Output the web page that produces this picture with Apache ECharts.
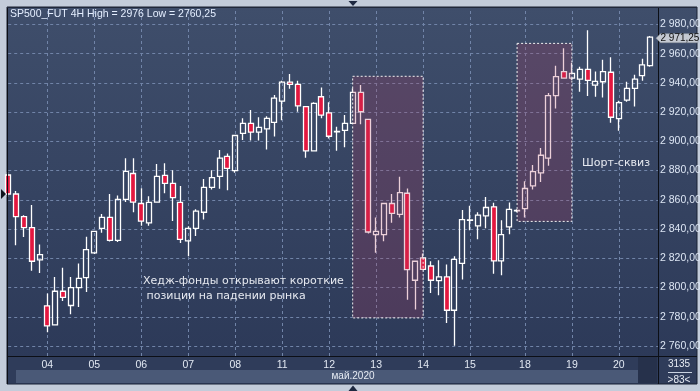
<!DOCTYPE html>
<html><head><meta charset="utf-8">
<script src="https://cdn.jsdelivr.net/npm/echarts@6/dist/echarts.min.js"></script>
<style>html,body{margin:0;padding:0;background:#c3ccda;}#c{width:700px;height:391px;}</style>
</head><body><div id="c"></div>
<script>
// ---- data ----
const dayLabels = ['04','05','06','07','08','11','12','13','14','15','18','19','20'];
const dayStarts = [5, 11, 17, 23, 29, 35, 41, 47, 53, 59, 66, 72, 78];
const opens  = [2877,2864,2848.5,2841,2819,2787.5,2774.5,2797.5,2787.75,2800,2806.75,2823.75,2840.5,2848,2832.25,2860.25,2878,2857.5,2844.25,2858.5,2876.75,2871.25,2858.25,2832,2840.5,2851.5,2868.5,2876,2889.75,2880,2905.5,2912.25,2906.25,2908.5,2913,2927.5,2940.5,2939,2923.75,2893.5,2930.5,2919.5,2906.5,2907.5,2912.25,2933.5,2915,2836.25,2836.25,2857.5,2850,2864.5,2805,2820.25,2814.75,2804.75,2807.25,2784.5,2816.5,2846,2842.25,2849,2855.25,2818.25,2841.5,2852.5,2854,2869.5,2878.5,2888.5,2931.25,2947.75,2943.25,2942.5,2949.25,2938.5,2940.75,2947.25,2915.5,2928.25,2936.25,2945,2951.75];
const closes = [2864,2848.5,2841,2818,2822.5,2773.75,2797.5,2793.25,2800,2806.25,2826,2838.5,2848,2832.25,2860.25,2879.5,2858.5,2845.5,2858.25,2876,2871.25,2861.5,2833,2840.5,2852.25,2868.5,2875.25,2888.5,2881.5,2904,2912.25,2906.25,2909.5,2915.75,2929.5,2940.5,2939,2924.25,2893.5,2926,2918,2903.5,2906.75,2912.25,2933.5,2920.25,2838,2838.5,2857.5,2850.75,2865,2812.25,2818,2812.5,2805,2807.25,2784.5,2819.25,2846.5,2846.25,2849.5,2854.75,2818.25,2836.25,2853.5,2852.75,2867.75,2879.25,2890.5,2931.25,2944.25,2943.25,2946.5,2949.25,2941.75,2941,2947.75,2916.5,2926.5,2936.25,2942.5,2952.25,2971.25];
const lows   = [2862,2829,2834.5,2811.5,2810,2769.5,2774,2790.75,2781.75,2786.75,2797,2823,2837.5,2831.5,2831.25,2858.5,2851.5,2842.25,2842.25,2858,2864.5,2845.5,2830.5,2821.5,2835.25,2846.5,2867,2867.5,2866.5,2878.5,2901,2900.5,2900.5,2894.5,2903.25,2914.5,2936,2920.25,2888.75,2893.5,2915.75,2902,2893.5,2896,2912,2911.75,2837,2823.75,2831.75,2844.25,2848,2791.75,2785,2812.25,2796.25,2794.75,2775.75,2760.25,2805.5,2839.25,2833,2840.5,2809.5,2808.5,2836.5,2851.75,2848,2867,2872.25,2883.25,2922.5,2943,2942,2934,2931,2930.5,2930,2912.75,2907.25,2927,2923.75,2941.5,2951];
const highs  = [2879,2866,2849.5,2856.5,2829.5,2796,2807.25,2813.5,2807.25,2816.5,2834.75,2838.75,2850.25,2864,2863,2888.5,2888.5,2868,2862.5,2884.5,2885,2880.25,2869.5,2842,2853.5,2874.25,2880.25,2894,2891.75,2904.5,2915.75,2921.5,2916.5,2917.25,2931.75,2941.5,2946,2941.5,2923.75,2926.75,2936.75,2926.75,2910,2918,2936.25,2938.5,2915.25,2848,2857.75,2864,2875.75,2867.75,2818.25,2823.25,2818,2818.75,2815.75,2821.5,2853,2856,2851.5,2862,2858,2846,2858.25,2853.5,2872.75,2883.75,2895.5,2933,2951.75,2963.75,2953.5,2951,2976,2947.75,2955.75,2957.5,2927.75,2940.75,2945.5,2956.5,2972];
const priceTicks = [2760,2780,2800,2820,2840,2860,2880,2900,2920,2940,2960,2980];
const zoneHedge = [44, 2944.5, 53, 2779.25];   // [fromIndex, topPrice, toIndex, bottomPrice]
const zoneSqueeze = [65, 2967, 72, 2845.25];
const titleText = 'SP500_FUT 4H High = 2976 Low = 2760,25';
const noteHedge = ['Хедж-фонды открывают короткие', ' позиции на падении рынка'];
const noteSqueeze = 'Шорт-сквиз';
const monthLabel = 'май.2020';
const barTotal = '3135';
const barVisible = '>83<';

// ---- chart ----
const NARROW = "'Liberation Sans Narrow','Liberation Sans',sans-serif";
const fmtPrice = v => { const s = Number(v).toFixed(2).replace('.', ','); return s.replace(/^(\d)(\d{3})/, '$1 $2'); };
// one slot per 4H bar plus one empty slot at the right edge
const categories = [];
for (let i = 0; i <= opens.length; i++) {
  const d = dayStarts.indexOf(i);
  categories.push(d >= 0 ? dayLabels[d] : 'b' + i);
}
const candles = opens.map((o, i) => [o, closes[i], lows[i], highs[i]]);
const gridLineStyle = {color: '#7184a8', type: [3, 3], width: 1};

const chart = echarts.init(document.getElementById('c'), null, {renderer: 'canvas'});
chart.setOption({
  animation: false,
  backgroundColor: '#c3ccda',
  grid: {left: 8.2, right: 42, top: 8, bottom: 35, containLabel: false, outerBoundsMode: 'none'},
  xAxis: {
    type: 'category', data: categories, boundaryGap: false,
    axisLine: {show: false}, axisTick: {show: false}, splitLine: {show: false},
    axisLabel: {
      interval: i => dayStarts.indexOf(i) >= 0,
      color: '#e2e8f2', fontSize: 10.5, fontFamily: NARROW, margin: 4
    }
  },
  yAxis: {
    type: 'value', position: 'right', min: 2753.2, max: 2991.2,
    axisLine: {show: false}, axisTick: {show: false}, splitLine: {show: false},
    axisLabel: {
      customValues: priceTicks, formatter: fmtPrice,
      color: '#dde6f4', fontSize: 10.5, fontFamily: NARROW, margin: 2
    }
  },
  series: [
    {
      type: 'line', data: [], z: 1, silent: true,
      markLine: {
        silent: true, symbol: 'none', z: 1, animation: false,
        label: {show: false}, lineStyle: gridLineStyle,
        data: priceTicks.map(v => ({yAxis: v})).concat(dayStarts.map(v => ({xAxis: v})))
      }
    },
    {
      type: 'candlestick', z: 3, barWidth: 5.5,
      itemStyle: {
        color: 'rgba(0,0,0,0)', color0: '#e3173f',
        borderColor: '#ffffff', borderColor0: '#ffffff', borderColorDoji: '#ffffff',
        borderWidth: 1.3
      },
      data: candles
    },
    {
      type: 'line', data: [], z: 10, silent: true,
      markArea: {
        silent: true, z: 10,
        itemStyle: {color: 'rgba(175,60,95,0.24)', borderColor: '#f2f2f2', borderWidth: 1, borderType: [2, 2]},
        data: [
          [{coord: [zoneHedge[0], zoneHedge[1]]}, {coord: [zoneHedge[2], zoneHedge[3]]}],
          [{coord: [zoneSqueeze[0], zoneSqueeze[1]]}, {coord: [zoneSqueeze[2], zoneSqueeze[3]]}]
        ]
      }
    }
  ]
});

const yLast = chart.convertToPixel({yAxisIndex: 0}, closes[closes.length - 1]);
const yFirst = chart.convertToPixel({yAxisIndex: 0}, closes[0]);

const txt = (x, y, text, o) => Object.assign({type: 'text', x, y, silent: true, z: 60,
  style: Object.assign({text, fill: '#e6e9f0', font: "11px 'DejaVu Sans'", textVerticalAlign: 'middle'}, o || {})});

chart.setOption({graphic: [
  // dark panels
  {type: 'rect', z: -20, silent: true, shape: {x: 7, y: 7, width: 690, height: 377},
   style: {fill: new echarts.graphic.LinearGradient(0, 0, 0, 1, [{offset: 0, color: '#3f4e6b'}, {offset: 1, color: '#2b3857'}]), stroke: '#1a2234', lineWidth: 1}},
  {type: 'rect', z: -19, silent: true, shape: {x: 7.5, y: 356.5, width: 650, height: 27}, style: {fill: '#2f3c5a'}},
  {type: 'rect', z: -18, silent: true, shape: {x: 16, y: 370, width: 622, height: 13}, style: {fill: '#4a5977'}},
  {type: 'rect', z: -18, silent: true, shape: {x: 638, y: 357, width: 19, height: 26}, style: {fill: '#26314b'}},
  {type: 'rect', z: -18, silent: true, shape: {x: 659, y: 357, width: 37, height: 26}, style: {fill: '#2f3c5a'}},
  // separators
  {type: 'line', z: 50, silent: true, shape: {x1: 658.5, y1: 7, x2: 658.5, y2: 384}, style: {stroke: '#0c0f16', lineWidth: 1}},
  {type: 'line', z: 50, silent: true, shape: {x1: 7, y1: 356.5, x2: 697, y2: 356.5}, style: {stroke: '#0c0f16', lineWidth: 1}},
  {type: 'line', z: 50, silent: true, shape: {x1: 7.5, y1: 7, x2: 7.5, y2: 384}, style: {stroke: '#0c0f16', lineWidth: 1}},
  {type: 'line', z: 50, silent: true, shape: {x1: 7, y1: 7.5, x2: 697, y2: 7.5}, style: {stroke: '#20283a', lineWidth: 1}},
  {type: 'line', z: 50, silent: true, shape: {x1: 668, y1: 372.5, x2: 692, y2: 372.5}, style: {stroke: '#c9d2e0', lineWidth: 1}},
  // triangles
  {type: 'polygon', z: 50, silent: true, shape: {points: [[348.5, 1], [357.5, 1], [353, 6]]}, style: {fill: '#1d2840'}},
  {type: 'polygon', z: 50, silent: true, shape: {points: [[348.5, 391], [357.5, 391], [353, 385.5]]}, style: {fill: '#1d2840'}},
  {type: 'polygon', z: 50, silent: true, shape: {points: [[1, yFirst - 5], [1, yFirst + 5], [6, yFirst]]}, style: {fill: '#10141c'}},
  // price tag
  {type: 'polygon', z: 60, silent: true, shape: {points: [[656, yLast + 1], [660.5, yLast - 3.5], [698, yLast - 3.5], [698, yLast + 5.5], [660.5, yLast + 5.5]]},
   style: {fill: '#c4c9d2', stroke: '#8d939e', lineWidth: 0.6}},
  txt(660.5, yLast + 1.2, fmtPrice(closes[closes.length - 1]), {fill: '#101010', font: "10px " + NARROW}),
  // texts
  txt(10, 14.5, titleText, {fill: '#e4eeff', font: "10.5px " + NARROW}),
  txt(143, 281.5, noteHedge[0]),
  txt(143, 296.5, noteHedge[1]),
  txt(582, 163, noteSqueeze),
  txt(353, 376.5, monthLabel, {fill: '#e6ebf3', font: "10px " + NARROW, align: 'center'}),
  txt(679, 364, barTotal, {fill: '#e6ebf3', font: "10px " + NARROW, align: 'center'}),
  txt(679, 380, barVisible, {fill: '#e6ebf3', font: "10px " + NARROW, align: 'center'})
]});
</script>
</body></html>
